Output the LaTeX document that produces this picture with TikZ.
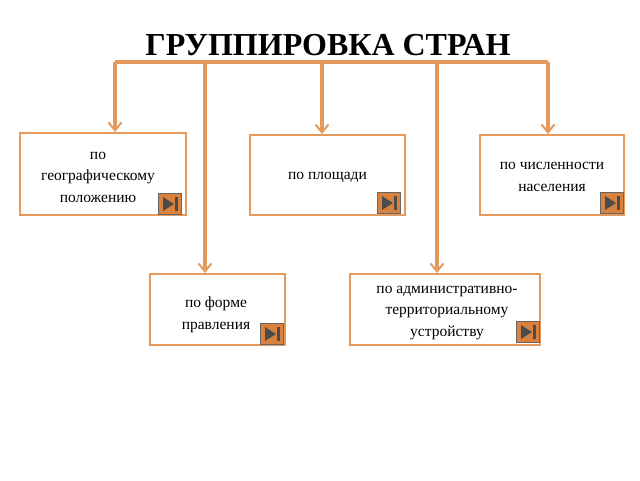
\documentclass[tikz,border=0pt]{standalone}
\usepackage{fontspec}
\setmainfont{Liberation Serif}
\usetikzlibrary{arrows.meta}
\definecolor{lc}{HTML}{E39A5C}
\definecolor{bc}{HTML}{D9823F}
\tikzset{
 box/.style={draw=lc, line width=2pt, fill=white, align=center, font=\fontsize{15.5}{21.5}\selectfont, inner sep=0pt},
 lbl/.style={font=\fontsize{15.5}{21.5}\selectfont, align=center},
 conn/.style={draw=lc, line width=3.2pt},
 arr/.style={conn, -{Straight Barb[length=8pt,width=13pt,line width=2pt]}},
 btn/.style={draw=black!60, line width=1.5pt, fill=bc, minimum width=23pt, minimum height=21pt, inner sep=0pt}
}
\newcommand{\playbtn}[2]{%
 \node[btn] (#1) at (#2) {};
 \fill[black!70] ([xshift=-7pt,yshift=7pt]#1.center) -- ([xshift=4pt]#1.center) -- ([xshift=-7pt,yshift=-7pt]#1.center) -- cycle;
 \fill[black!70] ([xshift=5pt,yshift=7pt]#1.center) rectangle ([xshift=8pt,yshift=-7pt]#1.center);
}
\begin{document}
\begin{tikzpicture}[x=1pt,y=-1pt]
\useasboundingbox (0,0) rectangle (640,480);
\node[font=\bfseries\fontsize{32}{36}\selectfont] (t) at (328,45) {ГРУППИРОВКА СТРАН};
\node[box, minimum width=166pt, minimum height=82pt] (b1) at (103,174) {};
\node[lbl] at (98,177) {по\\географическому\\положению};
\node[box, minimum width=155pt, minimum height=80pt] (b2) at (327.5,175) {};
\node[lbl] at (327.5,177) {по площади};
\node[box, minimum width=144pt, minimum height=80pt] (b3) at (552,175) {};
\node[lbl] at (552,177) {по численности\\населения};
\node[box, minimum width=135pt, minimum height=71pt] (b4) at (217.5,309.5) {};
\node[lbl] at (216,315) {по форме\\правления};
\node[box, minimum width=190pt, minimum height=71pt] (b5) at (445,309.5) {};
\node[lbl] at (447,313) {по административно-\\территориальному\\устройству};
\coordinate (c1) at (115,62); \coordinate (c2) at (205,62); \coordinate (c3) at (322,62);
\coordinate (c4) at (437,62); \coordinate (c5) at (548,62);
\draw[conn] (c1) -- (c5);
\draw[arr] (c1) -- (c1 |- b1.north);
\draw[arr] (c2) -- (c2 |- b4.north);
\draw[arr] (c3) -- (c3 |- b2.north);
\draw[arr] (c4) -- (c4 |- b5.north);
\draw[arr] (c5) -- (c5 |- b3.north);
\playbtn{p1}{170,204}
\playbtn{p2}{389,203}
\playbtn{p3}{612,203}
\playbtn{p4}{272,334}
\playbtn{p5}{528,332}
\end{tikzpicture}
\end{document}
